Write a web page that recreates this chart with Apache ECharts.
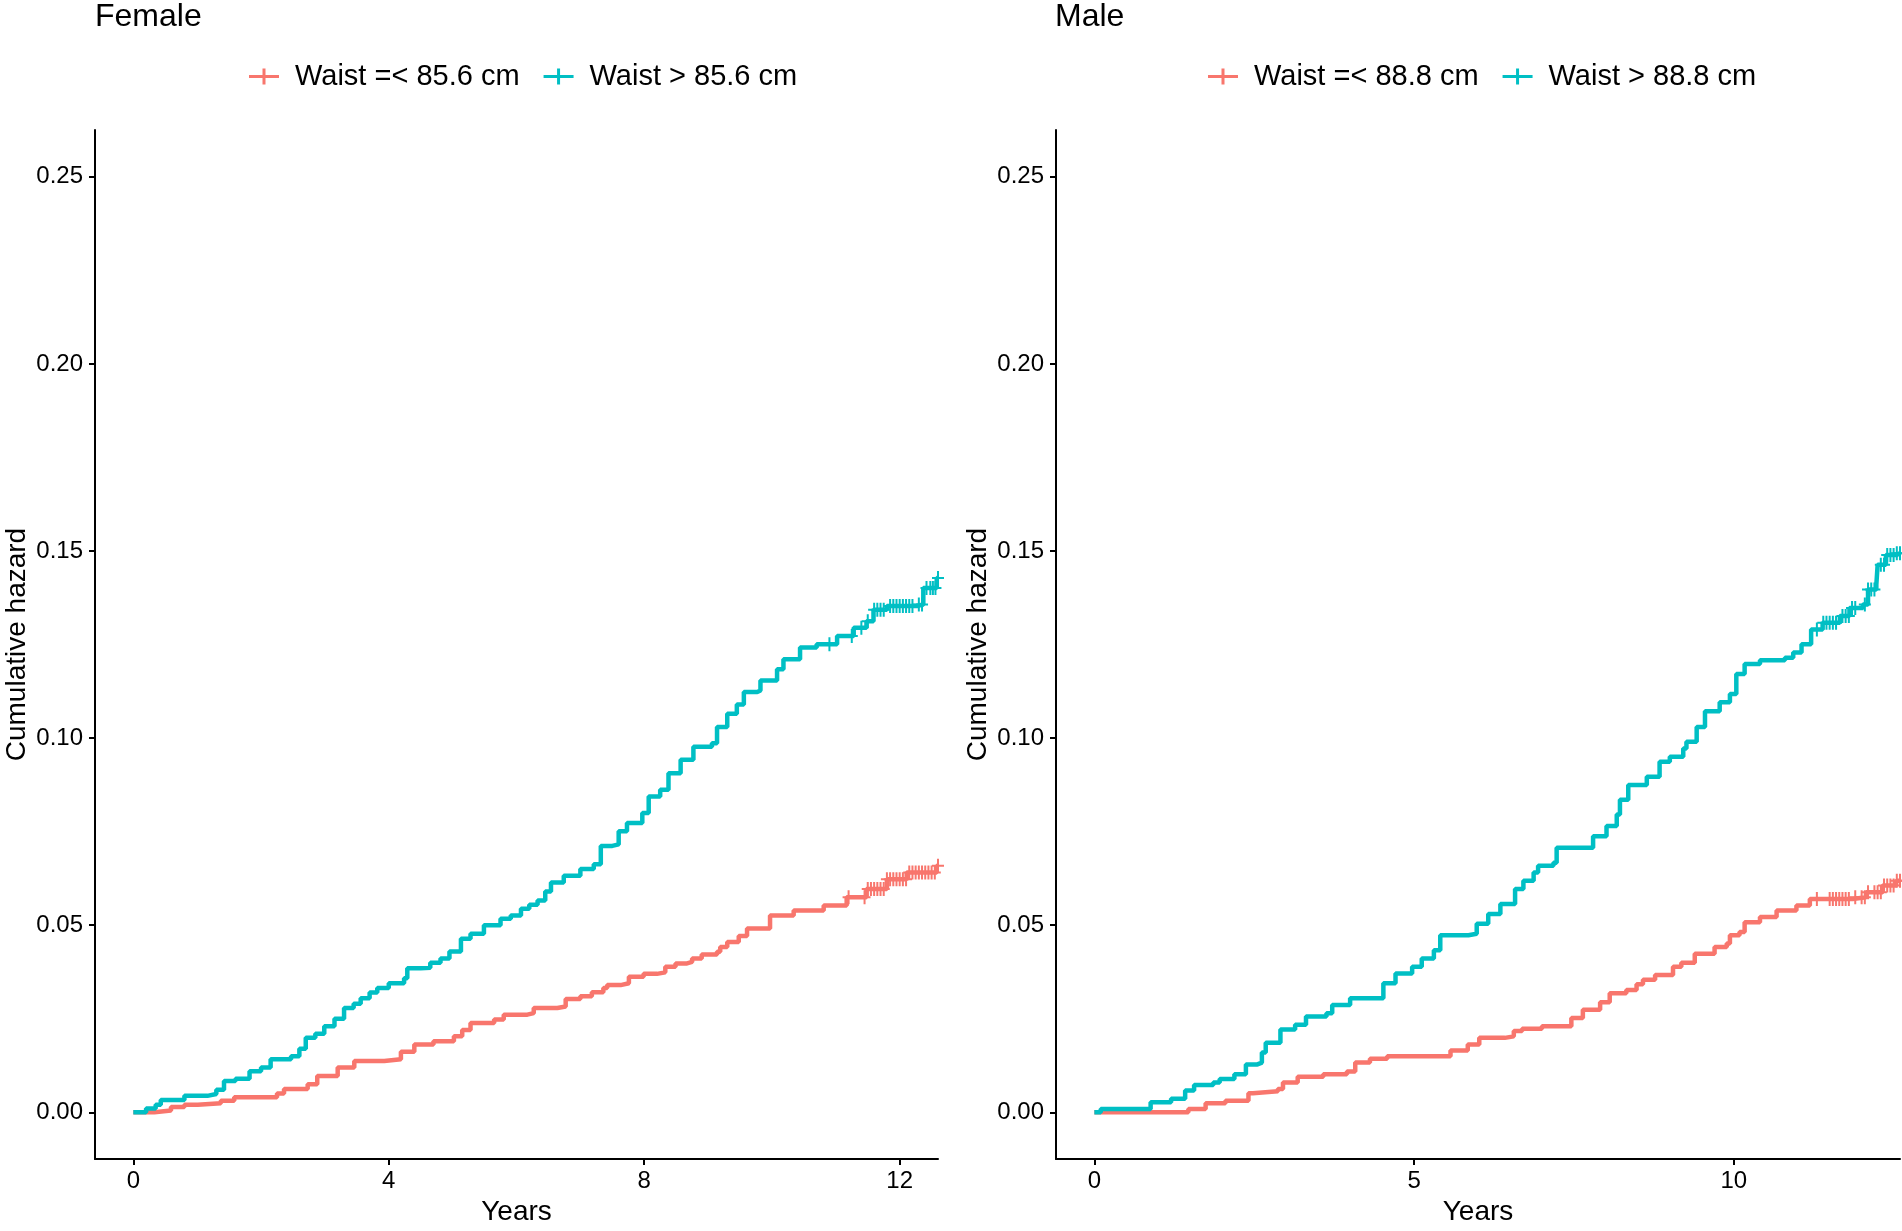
<!DOCTYPE html>
<html>
<head>
<meta charset="utf-8">
<script src="https://cdn.jsdelivr.net/npm/echarts@6/dist/echarts.min.js"></script>
<style>
html,body{margin:0;padding:0;background:#fff;}
#chart{width:1902px;height:1231px;}
</style>
</head>
<body>
<div id="chart"></div>
<script>
// ---------- DATA ----------
const panelTitles = ['Female', 'Male'];
const legendFemale = ['Waist =< 85.6 cm', 'Waist > 85.6 cm'];
const legendMale = ['Waist =< 88.8 cm', 'Waist > 88.8 cm'];
const xTicksFemale = [0, 4, 8, 12];
const xTicksMale = [0, 5, 10];
const yTicks = [0, 0.05, 0.10, 0.15, 0.20, 0.25];

// Female, waist > 85.6 (teal)
const femHighT = [0,0.2,0.35,0.43,0.80,1.16,1.30,1.42,1.6,1.82,2.0,2.15,2.47,2.6,2.70,2.85,2.99,3.15,3.30,3.45,3.56,3.7,3.82,4.0,4.24,4.29,4.50,4.65,4.81,4.95,5.13,5.28,5.49,5.75,5.91,6.07,6.20,6.33,6.45,6.54,6.74,7.00,7.21,7.32,7.50,7.60,7.73,7.97,8.07,8.25,8.38,8.57,8.77,9.06,9.14,9.30,9.45,9.56,9.77,9.82,10.08,10.18,10.44,10.70,11.02,11.28,11.48,11.59,11.80,12.27,12.37,12.58,12.6];
const femHighV = [0,0.001,0.002,0.0033,0.0044,0.0049,0.006,0.0084,0.009,0.011,0.012,0.0142,0.015,0.017,0.0199,0.021,0.023,0.025,0.0279,0.029,0.0305,0.032,0.0332,0.0345,0.0358,0.0385,0.0386,0.040,0.0411,0.043,0.0464,0.0477,0.050,0.0517,0.0526,0.0544,0.0555,0.0566,0.059,0.0614,0.0632,0.065,0.0663,0.0712,0.0716,0.0751,0.0773,0.080,0.0844,0.0862,0.0906,0.0942,0.0977,0.0986,0.103,0.1065,0.109,0.1123,0.1127,0.1154,0.1184,0.1211,0.1242,0.1251,0.1273,0.1295,0.1312,0.1343,0.1353,0.1357,0.1401,0.1428,0.1428];
const femHighCens = [10.9,11.25,11.4,11.5,11.6,11.65,11.7,11.75,11.85,11.9,11.95,12.0,12.05,12.1,12.15,12.2,12.3,12.35,12.42,12.48,12.52,12.56,12.6];

// Female, waist =< 85.6 (red)
const femLowT = [0,0.33,0.59,0.8,1.01,1.37,1.58,2.25,2.36,2.73,2.88,3.20,3.46,3.93,4.19,4.40,4.7,5.02,5.15,5.28,5.65,5.80,6.17,6.27,6.64,6.77,7.0,7.18,7.36,7.42,7.63,7.76,7.99,8.20,8.33,8.49,8.67,8.75,8.90,9.14,9.19,9.30,9.48,9.61,9.97,10.34,10.81,11.17,11.48,11.80,12.11,12.58,12.6];
const femLowV = [0,0.0005,0.0014,0.002,0.0024,0.0031,0.004,0.005,0.0062,0.0075,0.0097,0.012,0.0137,0.0142,0.0162,0.0181,0.019,0.0203,0.022,0.0239,0.0248,0.0261,0.0265,0.0279,0.0283,0.0303,0.031,0.0321,0.0332,0.034,0.0345,0.0362,0.037,0.0374,0.0389,0.0398,0.0402,0.0411,0.0422,0.0429,0.0442,0.0455,0.0471,0.0491,0.0526,0.0539,0.0553,0.0575,0.0597,0.0623,0.0641,0.0659,0.0659];
const femLowCens = [11.2,11.45,11.5,11.55,11.6,11.65,11.7,11.75,11.8,11.85,11.9,11.95,12.0,12.05,12.1,12.15,12.2,12.25,12.3,12.35,12.4,12.45,12.5,12.55,12.6];

// Male, waist > 88.8 (teal)
const maleHighT = [0,0.1,0.88,1.20,1.42,1.56,1.86,1.96,2.19,2.37,2.55,2.62,2.68,2.91,3.14,3.31,3.63,3.72,4.00,4.52,4.71,4.97,5.12,5.31,5.41,5.85,5.98,6.16,6.35,6.58,6.71,6.87,6.94,7.18,7.23,7.80,8.01,8.17,8.22,8.35,8.64,8.84,9.00,9.21,9.26,9.42,9.55,9.78,9.94,10.04,10.17,10.41,10.80,10.93,11.06,11.21,11.39,11.66,11.81,12.02,12.10,12.23,12.25,12.38,12.54,12.6];
const maleHighV = [0,0.0009,0.0027,0.0036,0.0058,0.0073,0.008,0.0089,0.0102,0.0128,0.0133,0.016,0.0186,0.0221,0.0234,0.0256,0.0265,0.0287,0.0305,0.0345,0.0371,0.0389,0.0411,0.0433,0.0473,0.0477,0.0504,0.053,0.0557,0.0597,0.0619,0.0641,0.0659,0.0667,0.0707,0.0738,0.0765,0.0796,0.0835,0.0875,0.0897,0.0937,0.095,0.0972,0.099,0.103,0.1072,0.1096,0.1118,0.1171,0.1198,0.1208,0.1215,0.1229,0.1251,0.129,0.1308,0.1326,0.1348,0.1357,0.1397,0.141,0.1463,0.1489,0.1494,0.1494];
const maleHighCens = [11.3,11.4,11.45,11.5,11.55,11.6,11.7,11.75,11.8,11.85,11.9,12.05,12.1,12.15,12.2,12.3,12.35,12.4,12.45,12.5,12.55,12.6];

// Male, waist =< 88.8 (red)
const maleLowT = [0,1.47,1.74,2.05,2.41,2.48,2.87,2.95,3.18,3.58,3.95,4.08,4.31,4.58,5.57,5.84,6.02,6.42,6.56,6.69,7.0,7.46,7.64,7.91,8.06,8.32,8.48,8.58,8.77,9.05,9.18,9.39,9.70,9.89,9.94,10.09,10.17,10.41,10.67,10.98,11.19,11.86,12.07,12.33,12.54,12.6];
const maleLowV = [0,0.0009,0.0024,0.0031,0.0051,0.0056,0.0062,0.008,0.0095,0.0102,0.0109,0.0133,0.0143,0.015,0.0165,0.0181,0.0199,0.0203,0.0217,0.0223,0.023,0.0252,0.0274,0.0294,0.0318,0.0327,0.0342,0.0354,0.0367,0.0389,0.040,0.0424,0.0442,0.0451,0.0473,0.0482,0.0508,0.0522,0.0539,0.0553,0.057,0.0575,0.0588,0.0606,0.0619,0.0619];
const maleLowCens = [11.3,11.5,11.55,11.6,11.65,11.7,11.75,11.8,11.9,12.0,12.05,12.1,12.2,12.25,12.3,12.35,12.4,12.45,12.5,12.55,12.6];

// ---------- BUILD ----------
const RED = '#F8766D', TEAL = '#00BFC4';
const FONT = '"Liberation Sans", Arial, sans-serif';
const LEGEND_ICON = 'path://M0,6.5h30v3h-30z M13.5,0h3v16h-3z';
const CENS_ICON = 'path://M0,6h12v2h-12z M5,0h2v14h-2z';

function zip(t, v) { return t.map((x, i) => [x, v[i]]); }
function censPts(t, v, c) {
  return c.map(ct => {
    let val = v[0];
    for (let i = 0; i < t.length; i++) { if (t[i] <= ct) val = v[i]; }
    return [ct, val];
  });
}

const chart = echarts.init(document.getElementById('chart'));

function xAxisCfg(idx, ticks) {
  return {
    type: 'value', gridIndex: idx, min: -0.6, max: 12.6,
    name: 'Years', nameLocation: 'middle', nameGap: 35,
    nameTextStyle: { fontSize: 28, color: '#000', fontFamily: FONT },
    axisLine: { show: true, onZero: false, lineStyle: { color: '#000', width: 2 } },
    axisTick: { show: true, length: 6, lineStyle: { color: '#000', width: 2 }, customValues: ticks },
    axisLabel: { fontSize: 24, color: '#000', fontFamily: FONT, margin: 10, customValues: ticks },
    splitLine: { show: false }
  };
}
function yAxisCfg(idx) {
  return {
    type: 'value', gridIndex: idx, min: -0.0125, max: 0.2625,
    name: 'Cumulative hazard', nameLocation: 'middle', nameGap: 64,
    nameTextStyle: { fontSize: 28, color: '#000', fontFamily: FONT },
    axisLine: { show: true, onZero: false, lineStyle: { color: '#000', width: 2 } },
    axisTick: { show: true, length: 6, lineStyle: { color: '#000', width: 2 }, customValues: yTicks },
    axisLabel: { fontSize: 24, color: '#000', fontFamily: FONT, margin: 12, customValues: yTicks,
      formatter: v => v.toFixed(2) },
    splitLine: { show: false }
  };
}
function stepSeries(name, idx, t, v, color) {
  return {
    name: name, type: 'line', step: 'end', xAxisIndex: idx, yAxisIndex: idx,
    data: zip(t, v), showSymbol: false, symbol: 'none',
    lineStyle: { color: color, width: 4.5 }, itemStyle: { color: color },
    silent: true, animation: false, z: 2
  };
}
function censSeries(name, idx, t, v, c, color) {
  return {
    name: name, type: 'scatter', xAxisIndex: idx, yAxisIndex: idx,
    data: censPts(t, v, c), symbol: CENS_ICON, symbolSize: [12, 14],
    itemStyle: { color: color, opacity: 1 }, silent: true, animation: false, z: 3
  };
}
function legendCfg(left, names) {
  return {
    left: left, top: 62, orient: 'horizontal', padding: 0, itemGap: 24,
    itemWidth: 30, itemHeight: 16, selectedMode: false,
    data: names.map(n => ({ name: n, icon: LEGEND_ICON })),
    textStyle: { fontSize: 29, color: '#000', fontFamily: FONT, padding: [0, 0, 0, 11] }
  };
}

const option = {
  backgroundColor: '#fff',
  animation: false,
  title: [
    { text: panelTitles[0], left: 95, top: 1, padding: 0, textStyle: { fontSize: 32, fontWeight: 'normal', color: '#000', fontFamily: FONT } },
    { text: panelTitles[1], left: 1055, top: 1, padding: 0, textStyle: { fontSize: 32, fontWeight: 'normal', color: '#000', fontFamily: FONT } }
  ],
  legend: [legendCfg(249, legendFemale), legendCfg(1208, legendMale)],
  grid: [
    { left: 95, top: 130, width: 843, height: 1037, containLabel: false },
    { left: 1056, top: 130, width: 844, height: 1037, containLabel: false }
  ],
  xAxis: [xAxisCfg(0, xTicksFemale), xAxisCfg(1, xTicksMale)],
  yAxis: [yAxisCfg(0), yAxisCfg(1)],
  series: [
    stepSeries(legendFemale[0], 0, femLowT, femLowV, RED),
    stepSeries(legendFemale[1], 0, femHighT, femHighV, TEAL),
    censSeries(legendFemale[0], 0, femLowT, femLowV, femLowCens, RED),
    censSeries(legendFemale[1], 0, femHighT, femHighV, femHighCens, TEAL),
    stepSeries(legendMale[0], 1, maleLowT, maleLowV, RED),
    stepSeries(legendMale[1], 1, maleHighT, maleHighV, TEAL),
    censSeries(legendMale[0], 1, maleLowT, maleLowV, maleLowCens, RED),
    censSeries(legendMale[1], 1, maleHighT, maleHighV, maleHighCens, TEAL)
  ]
};
chart.setOption(option);
</script>
</body>
</html>
